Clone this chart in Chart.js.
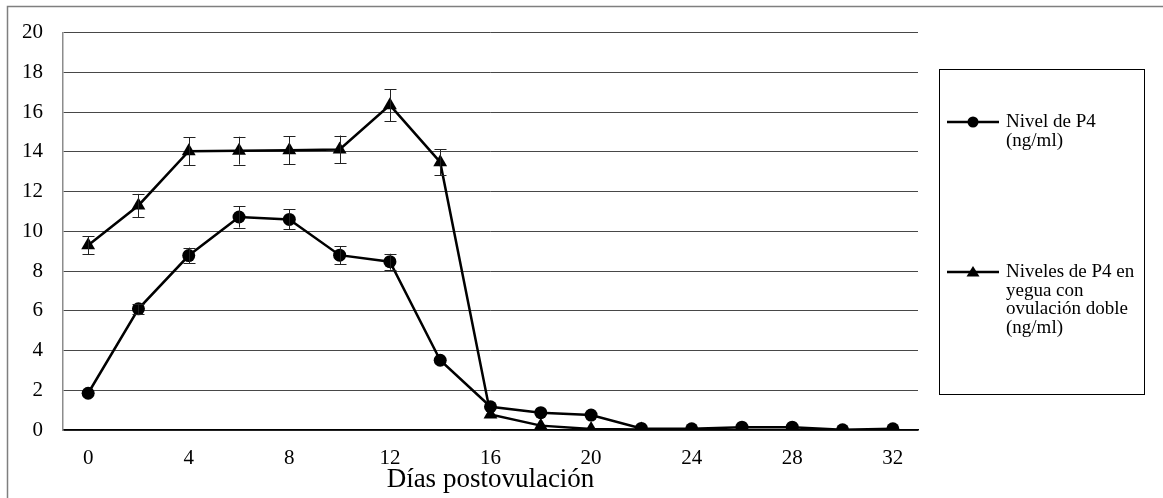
<!DOCTYPE html>
<html>
<head>
<meta charset="utf-8">
<script src="https://cdn.jsdelivr.net/npm/chart.js@4/dist/chart.umd.min.js"></script>
<style>
	html, body { margin: 0; padding: 0; background: #fff; }
	#wrap { position: absolute; left: 0; top: 0; width: 1163px; height: 498px; }
</style>
</head>
<body>
<div id="wrap"><canvas id="p4Chart" width="1163" height="498"></canvas></div>
<script>
// Progesterona postovulación: dos series con barras de error

const days = ['0', '2', '4', '6', '8', '10', '12', '14', '16', '18', '20', '22', '24', '26', '28', '30', '32'];

const p4 = [1.85, 6.1, 8.78, 10.72, 10.6, 8.8, 8.47, 3.51, 1.17, 0.87, 0.75, 0.08, 0.06, 0.14, 0.14, 0.01, 0.06];
const p4Err = [0, 0.25, 0.4, 0.53, 0.5, 0.45, 0.4, 0, 0, 0, 0, 0, 0, 0, 0, 0, 0];

const doble = [9.3, 11.3, 14.03, 14.06, 14.08, 14.12, 16.35, 13.48, 0.78, 0.22, 0.05, 0.02, null, null, null, null, null];
const dobleErr = [0.45, 0.58, 0.7, 0.7, 0.7, 0.7, 0.8, 0.66, 0, 0, 0, 0, 0, 0, 0, 0, 0];

const legendLabels = [
	['Nivel de P4', '(ng/ml)'],
	['Niveles de P4 en', 'yegua con', 'ovulación doble', '(ng/ml)']
];

const serif = "'Liberation Serif', 'Times New Roman', serif";

// outer frame (only left and top edges are visible)
const framePlugin = {
	id: 'frame',
	beforeDraw(chart) {
		const ctx = chart.ctx;
		ctx.save();
		ctx.strokeStyle = '#7f7f7f';
		ctx.lineWidth = 1.5;
		ctx.beginPath();
		ctx.moveTo(7.5, 498);
		ctx.lineTo(7.5, 6.5);
		ctx.lineTo(1163, 6.5);
		ctx.stroke();
		ctx.restore();
	}
};

// vertical error bars with caps
const errorBarPlugin = {
	id: 'errorBars',
	afterDatasetsDraw(chart) {
		const ctx = chart.ctx;
		const x = chart.scales.x, y = chart.scales.y;
		ctx.save();
		ctx.strokeStyle = '#222';
		ctx.lineWidth = 1;
		chart.data.datasets.forEach(ds => {
			if (!ds.errors) return;
			ds.data.forEach((v, i) => {
				const e = ds.errors[i];
				if (v === null || !e) return;
				const px = Math.round(x.getPixelForValue(i)) + 0.5;
				const top = y.getPixelForValue(v + e);
				const bot = y.getPixelForValue(v - e);
				ctx.beginPath();
				ctx.moveTo(px, top);
				ctx.lineTo(px, bot);
				ctx.moveTo(px - 6, Math.round(top) + 0.5);
				ctx.lineTo(px + 6, Math.round(top) + 0.5);
				ctx.moveTo(px - 6, Math.round(bot) + 0.5);
				ctx.lineTo(px + 6, Math.round(bot) + 0.5);
				ctx.stroke();
			});
		});
		ctx.restore();
	}
};

// boxed legend on the right, like the spreadsheet one
const boxLegendPlugin = {
	id: 'boxLegend',
	afterDraw(chart) {
		const ctx = chart.ctx;
		ctx.save();
		ctx.strokeStyle = '#000';
		ctx.lineWidth = 1;
		ctx.strokeRect(939.5, 69.5, 205, 325);

		const rows = [122, 272];
		const styles = ['circle', 'triangle'];
		ctx.font = '19px ' + serif;
		ctx.textBaseline = 'middle';
		ctx.fillStyle = '#000';
		rows.forEach((ry, k) => {
			ctx.lineWidth = 2.5;
			ctx.beginPath();
			ctx.moveTo(947, ry);
			ctx.lineTo(999, ry);
			ctx.stroke();
			ctx.beginPath();
			if (styles[k] === 'circle') {
				ctx.arc(973, ry, 5.5, 0, Math.PI * 2);
			} else {
				ctx.moveTo(973, ry - 6);
				ctx.lineTo(979.5, ry + 4.5);
				ctx.lineTo(966.5, ry + 4.5);
				ctx.closePath();
			}
			ctx.fill();
			legendLabels[k].forEach((line, j) => {
				ctx.fillText(line, 1006, ry + j * 18.7);
			});
		});
		ctx.restore();
	}
};

new Chart(document.getElementById('p4Chart'), {
	type: 'line',
	data: {
		labels: days,
		datasets: [
			{
				label: 'Nivel de P4 (ng/ml)',
				data: p4,
				errors: p4Err,
				borderColor: '#000',
				backgroundColor: '#000',
				borderWidth: 2.5,
				pointStyle: 'circle',
				pointRadius: 6.5,
				pointBorderWidth: 0,
				tension: 0
			},
			{
				label: 'Niveles de P4 en yegua con ovulación doble (ng/ml)',
				data: doble,
				errors: dobleErr,
				borderColor: '#000',
				backgroundColor: '#000',
				borderWidth: 2.5,
				pointStyle: 'triangle',
				pointRadius: 8,
				pointBorderWidth: 0,
				tension: 0
			}
		]
	},
	options: {
		responsive: false,
		animation: false,
		devicePixelRatio: 1,
		layout: { padding: { left: 13, top: 26, right: 245, bottom: 0 } },
		plugins: {
			legend: { display: false },
			tooltip: { enabled: false }
		},
		scales: {
			x: {
				type: 'category',
				offset: true,
				grid: { display: false, drawTicks: false },
				border: { display: true, color: '#000', width: 1.5 },
				ticks: {
					autoSkip: false,
					maxRotation: 0,
					padding: 16,
					color: '#000',
					font: { family: serif, size: 21 },
					callback: function (val, i) { return i % 2 === 0 ? days[i] : ''; }
				},
				title: {
					display: true,
					text: 'Días postovulación',
					color: '#000',
					font: { family: serif, size: 27 },
					padding: { top: 0, bottom: 2 }
				},
				afterFit(scale) { scale.height = 68; }
			},
			y: {
				min: 0,
				max: 20,
				grid: { color: '#474747', lineWidth: 1, drawTicks: false },
				border: { display: true, color: '#8c8c8c', width: 1.5 },
				ticks: {
					stepSize: 2,
					padding: 20,
					color: '#000',
					font: { family: serif, size: 21 }
				},
				afterFit(scale) { scale.width = 50; }
			}
		}
	},
	plugins: [framePlugin, errorBarPlugin, boxLegendPlugin]
});
</script>
</body>
</html>
